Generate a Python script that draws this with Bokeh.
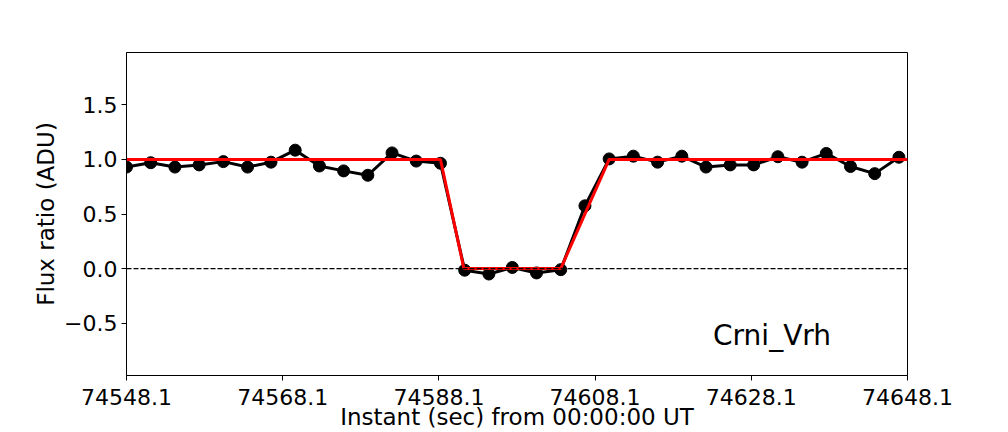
from bokeh.plotting import figure
from bokeh.models import Range1d, FixedTicker, PrintfTickFormatter, Span, Label
from bokeh.embed import file_html
from bokeh.resources import INLINE

# Observation instants (s from 00:00:00 UT) and flux ratio
times = [74548.1, 74551.2, 74554.3, 74557.4, 74560.5, 74563.6, 74566.6, 74569.7,
         74572.8, 74575.9, 74579.0, 74582.1, 74585.2, 74588.3, 74591.4, 74594.5,
         74597.5, 74600.6, 74603.7, 74606.8, 74609.9, 74613.0, 74616.1, 74619.2,
         74622.3, 74625.4, 74628.4, 74631.5, 74634.6, 74637.7, 74640.8, 74643.9,
         74647.0]
flux = [0.93, 0.97, 0.93, 0.95, 0.98, 0.93, 0.975, 1.085,
        0.94, 0.895, 0.855, 1.06, 0.985, 0.965, -0.015, -0.05,
        0.01, -0.04, -0.01, 0.575, 1.005, 1.03, 0.975, 1.03,
        0.93, 0.95, 0.95, 1.025, 0.975, 1.055, 0.935, 0.87,
        1.02]

# Square-well occultation model
model_t = [74548.1, 74588.3, 74591.3, 74603.7, 74609.9, 74648.1]
model_f = [1.0, 1.0, 0.0, 0.0, 1.0, 1.0]

x_ticks = [74548.1, 74568.1, 74588.1, 74608.1, 74628.1, 74648.1]
y_ticks = [-0.5, 0.0, 0.5, 1.0, 1.5]
y_labels = ["\u22120.5", "0.0", "0.5", "1.0", "1.5"]
station = "Crni_Vrh"
x_title = "Instant (sec) from 00:00:00 UT"
y_title = "Flux ratio (ADU)"

FONT = "DejaVu Sans"

p = figure(width=1000, height=432, output_backend="svg", toolbar_location=None,
           x_range=Range1d(74548.1, 74648.1), y_range=Range1d(-0.98, 1.98),
           min_border_left=126, min_border_right=93, min_border_top=52, min_border_bottom=54)
p.background_fill_color = "white"
p.border_fill_color = "white"
p.outline_line_color = "black"
p.outline_line_width = 1
p.xgrid.visible = False
p.ygrid.visible = False

for ax in (p.xaxis[0], p.yaxis[0]):
    ax.major_label_text_font = FONT
    ax.major_label_text_font_size = "22px"
    ax.major_label_text_color = "black"
    ax.axis_label_text_font = FONT
    ax.axis_label_text_font_size = "23px"
    ax.axis_label_text_font_style = "normal"
    ax.axis_label_text_color = "black"
    ax.major_tick_out = 5
    ax.major_tick_in = 0
    ax.minor_tick_out = 0
    ax.minor_tick_in = 0
    ax.axis_line_color = "black"
    ax.major_tick_line_color = "black"

p.xaxis[0].ticker = FixedTicker(ticks=x_ticks)
p.xaxis[0].formatter = PrintfTickFormatter(format="%.1f")
p.xaxis[0].major_label_standoff = 8
p.xaxis[0].axis_label = x_title
p.xaxis[0].axis_label_standoff = -4

p.yaxis[0].ticker = FixedTicker(ticks=y_ticks)
p.yaxis[0].major_label_overrides = {t: l for t, l in zip(y_ticks, y_labels)}
p.yaxis[0].axis_label = y_title
p.yaxis[0].major_label_standoff = 4
p.yaxis[0].axis_label_standoff = 2

zero = Span(location=0, dimension="width", line_color="black", line_width=1.3,
            line_dash="5 2")
p.add_layout(zero)

p.line(times, flux, line_color="black", line_width=3)
p.scatter(times, flux, size=12, fill_color="black", line_color="black")
p.line(model_t, model_f, line_color="red", line_width=3)

p.add_layout(Label(x=74623.2, y=-0.61, text=station, text_font=FONT,
                   text_font_size="28px", text_color="black",
                   text_align="left", text_baseline="alphabetic"))

open("out.html", "w").write(file_html(p, INLINE))
